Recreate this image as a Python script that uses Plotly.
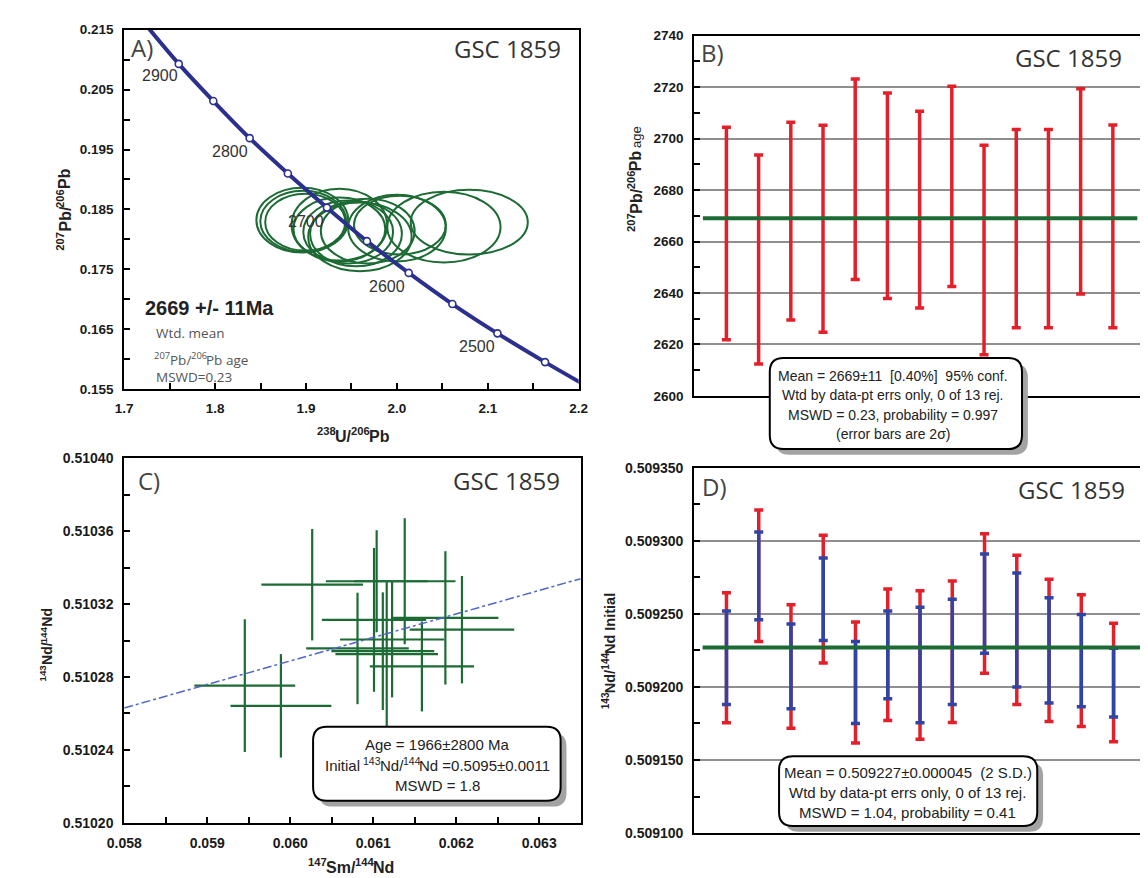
import plotly.graph_objects as go

W, H = 1148, 878
SANS = "Liberation Sans, Arial, sans-serif"
HUM = "Open Sans, Noto Sans, sans-serif"
RED = "#e3202a"
BLUE = "#3144a3"
GREEN = "#1d6b34"
NAVY = "#2b2f8e"

# ---------------- Panel A : Tera-Wasserburg concordia ----------------
conc_age = [2950, 2900, 2850, 2800, 2750, 2700, 2650, 2600, 2550, 2500, 2450, 2400]
conc_x = [1.7233, 1.760, 1.798, 1.838, 1.880, 1.923, 1.967, 2.013, 2.061, 2.1106, 2.163, 2.2169]
conc_y = [0.2159, 0.2093, 0.2031, 0.1969, 0.1910, 0.1853, 0.1797, 0.1744, 0.1692, 0.1643, 0.1595, 0.1548]
age_label_text = ["2900", "2800", "2700", "2600", "2500"]
age_label_x = [1.739, 1.8164, 1.8999, 1.9894, 2.0879]
age_label_y = [0.2073, 0.19472, 0.18298, 0.17205, 0.16210]

ell_x = [1.8959, 1.8970, 1.8991, 1.9367, 1.9367, 1.9464, 1.9593, 1.9550, 2.0001, 2.0033, 2.0517, 2.0796, 1.9679]
ell_y = [0.18320, 0.18303, 0.18287, 0.18238, 0.18172, 0.18123, 0.18041, 0.18090, 0.18189, 0.18238, 0.18205, 0.18287, 0.18139]
ell_hw = [0.0505, 0.0473, 0.0440, 0.0526, 0.0505, 0.0494, 0.0569, 0.0505, 0.0537, 0.0505, 0.0623, 0.0644, 0.0516]
ell_hh = [0.00541, 0.00508, 0.00475, 0.00607, 0.00525, 0.00525, 0.00574, 0.00541, 0.00557, 0.00492, 0.00590, 0.00541, 0.00541]

# ---------------- Panel B : 207Pb/206Pb ages ----------------
grain = list(range(1, 14))
pb_age = [2663.1, 2653.0, 2667.9, 2665.0, 2684.2, 2677.8, 2672.4, 2681.4, 2656.7, 2665.0, 2665.0, 2679.5, 2665.9]
pb_err = [41.3, 40.6, 38.4, 40.2, 39.0, 39.9, 38.2, 38.9, 40.7, 38.5, 38.5, 39.9, 39.4]
pb_mean = 2669
pb_mean_x = [0.27, 13.76]

# ---------------- Panel C : Sm-Nd isochron ----------------
sm_x = [0.059453, 0.059888, 0.060265, 0.060811, 0.061010, 0.061042, 0.061380, 0.061116, 0.061163, 0.061228, 0.061587, 0.061870, 0.062070]
sm_err = [0.000608, 0.000608, 0.000612, 0.000618, 0.000628, 0.000612, 0.000612, 0.000620, 0.000618, 0.000628, 0.000628, 0.000639, 0.000630]
nd_y = [0.5102753, 0.5102642, 0.5103307, 0.5102957, 0.5103114, 0.5103326, 0.5103326, 0.5102942, 0.5102926, 0.5103006, 0.5102858, 0.5103125, 0.5103060]
nd_err = [0.0000364, 0.0000284, 0.0000306, 0.0000306, 0.0000395, 0.0000280, 0.0000346, 0.0000323, 0.0000395, 0.0000318, 0.0000247, 0.0000366, 0.0000295]
iso_x = [0.058, 0.0635]
iso_y = [0.510263, 0.510334]

# ---------------- Panel D : initial 143Nd/144Nd ----------------
ndi = [0.509220, 0.509276, 0.509214, 0.509260, 0.509203, 0.509222, 0.509215, 0.509224, 0.509257, 0.509239, 0.509225, 0.509218, 0.509203]
ndi_err_out = [0.0000445, 0.0000450, 0.0000422, 0.0000437, 0.0000414, 0.0000449, 0.0000508, 0.0000484, 0.0000477, 0.0000510, 0.0000486, 0.0000450, 0.0000405]
ndi_err_in = [0.0000320, 0.0000300, 0.0000290, 0.0000282, 0.0000280, 0.0000300, 0.0000395, 0.0000360, 0.0000340, 0.0000390, 0.0000360, 0.0000315, 0.0000235]
ndi_mean = 0.509227
ndi_mean_x = [0.26, 13.87]


def PX(x):
    return x / W


def PY(y):
    return 1 - y / H


fig = go.Figure()

# Panel A traces
fig.add_trace(go.Scatter(x=conc_x, y=conc_y, mode="lines+markers",
                         line=dict(color=NAVY, width=4, shape="spline"),
                         marker=dict(size=7, color="white", line=dict(color=NAVY, width=1.6)),
                         xaxis="x", yaxis="y", hoverinfo="skip"))

# Panel B traces
fig.add_trace(go.Scatter(x=grain, y=pb_age, mode="markers",
                         marker=dict(size=1, color="rgba(0,0,0,0)"),
                         error_y=dict(type="data", array=pb_err, color=RED, thickness=3.5, width=4.5),
                         xaxis="x2", yaxis="y2", hoverinfo="skip"))
fig.add_trace(go.Scatter(x=pb_mean_x, y=[pb_mean, pb_mean], mode="lines",
                         line=dict(color=GREEN, width=4), xaxis="x2", yaxis="y2", hoverinfo="skip"))

# Panel C traces
fig.add_trace(go.Scatter(x=sm_x, y=nd_y, mode="markers",
                         marker=dict(size=1, color="rgba(0,0,0,0)"),
                         error_x=dict(type="data", array=sm_err, color=GREEN, thickness=2.2, width=0),
                         error_y=dict(type="data", array=nd_err, color=GREEN, thickness=2.2, width=0),
                         xaxis="x3", yaxis="y3", hoverinfo="skip"))
fig.add_trace(go.Scatter(x=iso_x, y=iso_y, mode="lines",
                         line=dict(color="#5165c9", width=1.5, dash="dashdot"),
                         xaxis="x3", yaxis="y3", hoverinfo="skip"))

# Panel D traces
fig.add_trace(go.Scatter(x=grain, y=ndi, mode="markers",
                         marker=dict(size=1, color="rgba(0,0,0,0)"),
                         error_y=dict(type="data", array=ndi_err_out, color=RED, thickness=3.5, width=4.5),
                         xaxis="x4", yaxis="y4", hoverinfo="skip"))
fig.add_trace(go.Scatter(x=grain, y=ndi, mode="markers",
                         marker=dict(size=1, color="rgba(0,0,0,0)"),
                         error_y=dict(type="data", array=ndi_err_in, color=BLUE, thickness=3.5, width=4.5),
                         xaxis="x4", yaxis="y4", hoverinfo="skip"))
fig.add_trace(go.Scatter(x=ndi_mean_x, y=[ndi_mean, ndi_mean], mode="lines",
                         line=dict(color=GREEN, width=4), xaxis="x4", yaxis="y4", hoverinfo="skip"))

shapes = []
# ellipses in panel A
for cx, cy, hw, hh in zip(ell_x, ell_y, ell_hw, ell_hh):
    shapes.append(dict(type="circle", xref="x", yref="y", x0=cx - hw, x1=cx + hw,
                       y0=cy - hh, y1=cy + hh, line=dict(color=GREEN, width=2), layer="below"))


def rrect(x0, y0, x1, y1, r):
    return (f"M {PX(x0 + r)},{PY(y0)} L {PX(x1 - r)},{PY(y0)} Q {PX(x1)},{PY(y0)} {PX(x1)},{PY(y0 + r)} "
            f"L {PX(x1)},{PY(y1 - r)} Q {PX(x1)},{PY(y1)} {PX(x1 - r)},{PY(y1)} "
            f"L {PX(x0 + r)},{PY(y1)} Q {PX(x0)},{PY(y1)} {PX(x0)},{PY(y1 - r)} "
            f"L {PX(x0)},{PY(y0 + r)} Q {PX(x0)},{PY(y0)} {PX(x0 + r)},{PY(y0)} Z")


boxes = [(761.7, 348.3, 1020, 441), (294, 724, 547.5, 799.3), (771.2, 754, 1035.6, 825)]
for (x0, y0, x1, y1) in boxes:
    shapes.append(dict(type="path", xref="paper", yref="paper", path=rrect(x0 + 6, y0 + 6, x1 + 6, y1 + 6, 14),
                       fillcolor="#a3a3a3", line=dict(width=0), layer="above"))
    shapes.append(dict(type="path", xref="paper", yref="paper", path=rrect(x0, y0, x1, y1, 14),
                       fillcolor="white", line=dict(color="black", width=2), layer="above"))

ann = []
# concordia age labels
for t, x, y in zip(age_label_text, age_label_x, age_label_y):
    ann.append(dict(x=x, y=y, xref="x", yref="y", text=t, showarrow=False,
                    font=dict(family=SANS, size=16, color="#333333")))


def txt(x, y, s, size=14, color="#222222", family=SANS, xanchor="center", bold=False, angle=0):
    f = dict(family=family, size=size, color=color)
    if bold:
        f["weight"] = "bold"
    ann.append(dict(x=PX(x), y=PY(y), xref="paper", yref="paper", text=s, showarrow=False,
                    xanchor=xanchor, yanchor="middle", textangle=angle, font=f))


# character advance widths (em) used to lay out superscript pieces
_REG = {"P": .667, "b": .556, "/": .278, " ": .278, "a": .556, "g": .556, "e": .556, "N": .722,
        "d": .556, "I": .278, "n": .556, "i": .222, "t": .278, "l": .222, "=": .584, ".": .278,
        "±": .549, "S": .667, "m": .833, "U": .722}
_BOLD = {"P": .667, "b": .611, "/": .278, " ": .278, "N": .722, "d": .611, "U": .722, "S": .667,
         "m": .889, "I": .278, "n": .611, "i": .278, "t": .333, "a": .556, "l": .278, "g": .611, "e": .556}
_OPEN = {"P": .603, "b": .613, "/": .373, " ": .26, "a": .556, "g": .548, "e": .561}


def _table(fam, bold):
    if fam == "open":
        return _OPEN, .572
    return (_BOLD if bold else _REG), .556


def rich(x, y, segs, base, fam="sans", bold=False, color="#222222", angle=0, align="center"):
    """segs: list of (text, is_sup[, size_override, bold_override])"""
    items = []
    for s in segs:
        t, sup = s[0], s[1]
        size = s[2] if len(s) > 2 else (base * 0.7 if sup else base)
        b = s[3] if len(s) > 3 else bold
        tab, dig = _table(fam, b)
        w = sum(tab.get(c, dig) for c in t) * size
        sp = tab[" "] * size
        items.append((t, sup, size, b, w, sp))
    total = sum(i[4] for i in items)
    cum = -total / 2 if align == "center" else 0.0
    family = HUM if fam == "open" else SANS
    for t, sup, size, b, w, sp in items:
        lead = len(t) - len(t.lstrip(" "))
        trail = len(t) - len(t.rstrip(" "))
        vis = t.strip(" ")
        c = cum + lead * sp + (w - (lead + trail) * sp) / 2
        rise = 0.33 * base if sup else 0.0
        if angle == 0:
            px_, py_ = x + c, y - rise
        else:
            px_, py_ = x - rise, y - c
        txt(px_, py_, vis, size=size, color=color, family=family, bold=b, angle=angle)
        cum += w


# panel labels and titles
for lab, lx, ly, gx, gy in [("A)", 105, 32, 493, 33), ("B)", 689, 37, 1068, 42),
                            ("C)", 113, 473, 492, 473), ("D)", 690, 479, 1071, 482)]:
    txt(lx, ly, lab, size=24, color="#444444", family=HUM, xanchor="left")
    txt(gx, gy, "GSC 1859", size=24, color="#333333", family=HUM)

# panel A inner text
txt(120, 297, "2669 +/- 11Ma", size=20, color="#222222", bold=True, xanchor="left")
txt(131, 323, "Wtd. mean", size=13.5, color="#555555", family=HUM, xanchor="left")
rich(131, 350, [("207", True), ("Pb/", False), ("206", True), ("Pb age", False)], 13.5,
     fam="open", color="#555555", align="left")
txt(131, 368, "MSWD=0.23", size=13.5, color="#555555", family=HUM, xanchor="left")

# axis titles
rich(40, 197, [("207", True), ("Pb/", False), ("206", True), ("Pb", False)], 16, bold=True, angle=-90)
rich(335, 428, [("238", True), ("U/", False), ("206", True), ("Pb", False)], 16, bold=True)
rich(625, 166, [("207", True), ("Pb/", False), ("206", True), ("Pb", False), (" age", False, 13, False)],
     16, bold=True, angle=-90)
rich(22, 640, [("143", True), ("Nd/", False), ("144", True), ("Nd", False)], 14, bold=True, angle=-90)
rich(333, 867, [("147", True), ("Sm/", False), ("144", True), ("Nd", False)], 16, bold=True)
rich(598, 647, [("143", True), ("Nd/", False), ("144", True), ("Nd Initial", False)], 14.5, bold=True, angle=-90)

# boxes text
for i, s in enumerate(["Mean = 2669±11  [0.40%]  95% conf.", "Wtd by data-pt errs only, 0 of 13 rej.",
                       "MSWD = 0.23, probability = 0.997", "(error bars are 2σ)"]):
    txt(888, 366.7 + i * 19.7, s)
txt(421, 741.7, "Age = 1966±2800 Ma", size=15)
rich(421, 763.5, [("Initial ", False), ("143", True), ("Nd/", False), ("144", True), ("Nd =0.5095±0.0011", False)], 15)
txt(421, 784, "MSWD = 1.8", size=15)
for i, s in enumerate(["Mean = 0.509227±0.000045  (2 S.D.)", "Wtd by data-pt errs only, 0 of 13 rej.",
                       "MSWD = 1.04, probability = 0.41"]):
    txt(903, 770.7 + i * 20.2, s, size=15)

tickfontA = dict(family=SANS, size=13.5, color="#1a1a1a", weight="bold")
tickfontC = dict(family=SANS, size=14, color="#1a1a1a", weight="bold")


def axis(dom, rng, anchor, tickvals=None, fmt=None, minor=None, labels=True, grid=False, font=tickfontA):
    d = dict(domain=dom, range=rng, anchor=anchor, showline=True, linecolor="black", linewidth=2,
             mirror=True, zeroline=False, showgrid=grid, gridcolor="#8f8f8f", gridwidth=2,
             ticks="inside" if tickvals else "", ticklen=6, tickwidth=1.5, tickcolor="black",
             showticklabels=labels, tickfont=font, ticklabelstandoff=6, fixedrange=True)
    if tickvals is not None:
        d["tickmode"] = "array"
        d["tickvals"] = tickvals
    if fmt:
        d["tickformat"] = fmt
    if minor is not None:
        d["minor"] = dict(tickmode="array", tickvals=minor, ticks="inside", ticklen=6,
                          tickwidth=1.5, tickcolor="black", showgrid=False)
    return d


a_xt = [1.7, 1.8, 1.9, 2.0, 2.1, 2.2]
a_xm = [1.75, 1.85, 1.95, 2.05, 2.15]
a_yt = [0.155, 0.165, 0.175, 0.185, 0.195, 0.205, 0.215]
a_ym = [0.160, 0.170, 0.180, 0.190, 0.200, 0.210]
b_yt = [2600, 2620, 2640, 2660, 2680, 2700, 2720, 2740]
b_ym = [2610, 2630, 2650, 2670, 2690, 2710, 2730]
c_xt = [0.058, 0.059, 0.060, 0.061, 0.062, 0.063]
c_xm = [0.0585, 0.0595, 0.0605, 0.0615, 0.0625]
c_yt = [0.51020, 0.51024, 0.51028, 0.51032, 0.51036, 0.51040]
c_ym = [0.51022, 0.51026, 0.51030, 0.51034, 0.51038]
d_yt = [0.50910, 0.50915, 0.50920, 0.50925, 0.50930, 0.50935]
d_ym = [0.509125, 0.509175, 0.509225, 0.509275, 0.509325]

fig.update_layout(
    width=W, height=H, margin=dict(l=0, r=0, t=0, b=0),
    paper_bgcolor="white", plot_bgcolor="white", showlegend=False,
    xaxis=axis([PX(100.6), PX(566)], [1.7, 2.2], "y", a_xt, ".1f", a_xm),
    yaxis=axis([PY(380), PY(14)], [0.155, 0.215], "x", a_yt, ".3f", a_ym),
    xaxis2=axis([PX(684.3), PX(1146)], [0, 14], "y2", None, labels=False),
    yaxis2=axis([PY(387), PY(20)], [2600, 2740], "x2", b_yt, "d", b_ym, grid=True),
    xaxis3=axis([PX(100.6), PX(568)], [0.058, 0.0635], "y3", c_xt, ".3f", c_xm, font=tickfontC),
    yaxis3=axis([PY(821.7), PY(450.7)], [0.5102, 0.5104], "x3", c_yt, ".5f", c_ym, font=tickfontC),
    xaxis4=axis([PX(684.3), PX(1146.8)], [0, 14], "y4", None, labels=False),
    yaxis4=axis([PY(832.3), PY(460)], [0.5091, 0.50935], "x4", d_yt, ".6f", d_ym, grid=True, font=tickfontC),
    shapes=shapes, annotations=ann,
)

fig.write_html("out.html")
